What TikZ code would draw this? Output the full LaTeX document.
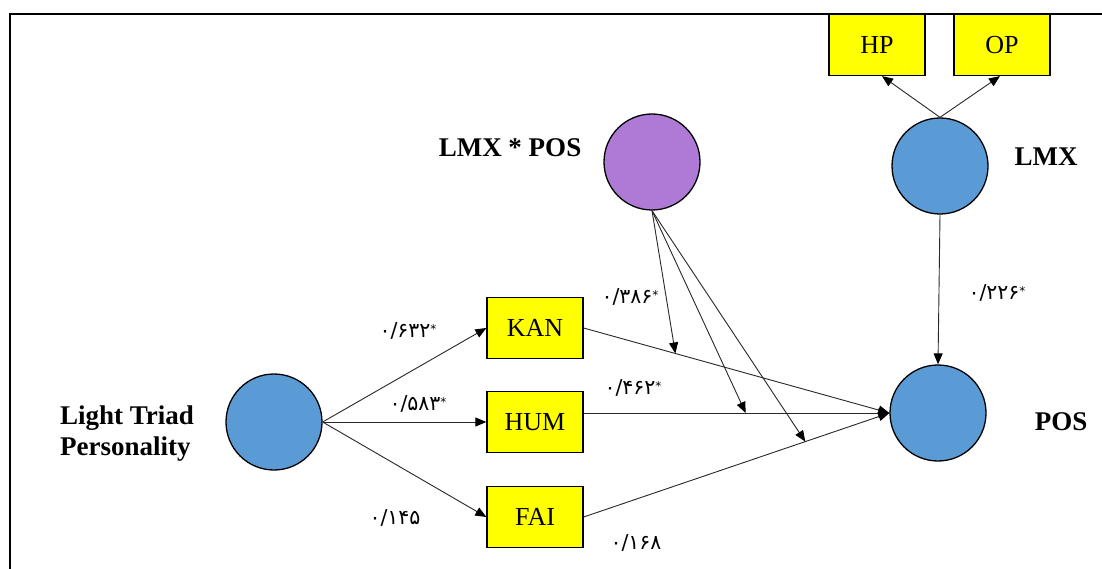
\documentclass[tikz,border=0pt]{standalone}
\usepackage{fontspec}
\setmainfont{Liberation Serif}
\newfontfamily\pfont{DejaVu Sans}
\usetikzlibrary{arrows.meta}
\definecolor{cblue}{RGB}{91,155,213}
\definecolor{cpurple}{RGB}{174,122,214}
\definecolor{cyell}{RGB}{255,255,0}
\definecolor{cline}{RGB}{40,40,40}
\tikzset{
  latent/.style={circle,draw=black,line width=1.3pt,fill=cblue,minimum size=96pt,inner sep=0pt},
  ind/.style={rectangle,draw=black,line width=1.3pt,fill=cyell,minimum width=96pt,minimum height=61pt,inner sep=0pt,font=\fontsize{26}{30}\selectfont},
  lbl/.style={font=\bfseries\fontsize{27}{31}\selectfont,inner sep=0pt},
  coef/.style={font=\pfont\fontsize{20.5}{22}\selectfont,inner sep=0pt},
  arr/.style={draw=cline,line width=0.9pt,-{Triangle[length=11pt,width=9pt,color=black]}},
}
\newcommand{\st}{\raisebox{0.4ex}{\fontsize{12}{12}\selectfont *}}
\begin{document}
\begin{tikzpicture}[x=1pt,y=-1pt]
\useasboundingbox (0,0) rectangle (1102,569);
\fill[white] (0,0) rectangle (1102,569);
\draw[line width=2pt] (10,569) -- (10,14) -- (1102,14);

\node[latent] (LT) at (274,422) {};
\node[latent,fill=cpurple] (LP) at (652,162) {};
\node[latent] (LMX) at (940,166) {};
\node[latent] (POS) at (938,413) {};
\node[ind] (KAN) at (535,328) {KAN};
\node[ind] (HUM) at (535,422) {HUM};
\node[ind] (FAI) at (535,517) {FAI};
\node[ind] (HP) at (877,45) {HP};
\node[ind] (OP) at (1002,45) {OP};

\node[lbl] (tLP) at (510,148) {LMX * POS};
\node[lbl] (tLMX) at (1046,157) {LMX};
\node[lbl] (tPOS) at (1061,422) {POS};
\node[lbl,anchor=west,align=left] (tLT) at (60,434) {Light Triad\\Personality};

\draw[arr] (LT.east) -- (KAN.west);
\draw[arr] (LT.east) -- (HUM.west);
\draw[arr] (LT.east) -- (FAI.west);
\draw[arr] (KAN.east) -- coordinate[pos=0.3] (m1) (POS.west);
\draw[arr] (HUM.east |- POS.west) -- coordinate[pos=0.53] (m2) (POS.west);
\draw[arr] (FAI.east) -- coordinate[pos=0.725] (m3) (POS.west);
\draw[arr] (LP.south) -- (m1);
\draw[arr] (LP.south) -- (m2);
\draw[arr] (LP.south) -- (m3);
\draw[arr] (LMX.south) -- (POS.north);
\draw[arr] (LMX.north) -- ([xshift=5pt]HP.south);
\draw[arr] (LMX.north) -- ([xshift=-2pt]OP.south);

\node[coef] (c1) at (408,331) {۰/۶۳۲\st};
\node[coef] (c2) at (418,404) {۰/۵۸۳\st};
\node[coef] (c3) at (395,518) {۰/۱۴۵};
\node[coef] (c4) at (630,297) {۰/۳۸۶\st};
\node[coef] (c5) at (633,388) {۰/۴۶۲\st};
\node[coef] (c6) at (636,543) {۰/۱۶۸};
\node[coef] (c7) at (997,293) {۰/۲۲۶\st};
\end{tikzpicture}
\end{document}
